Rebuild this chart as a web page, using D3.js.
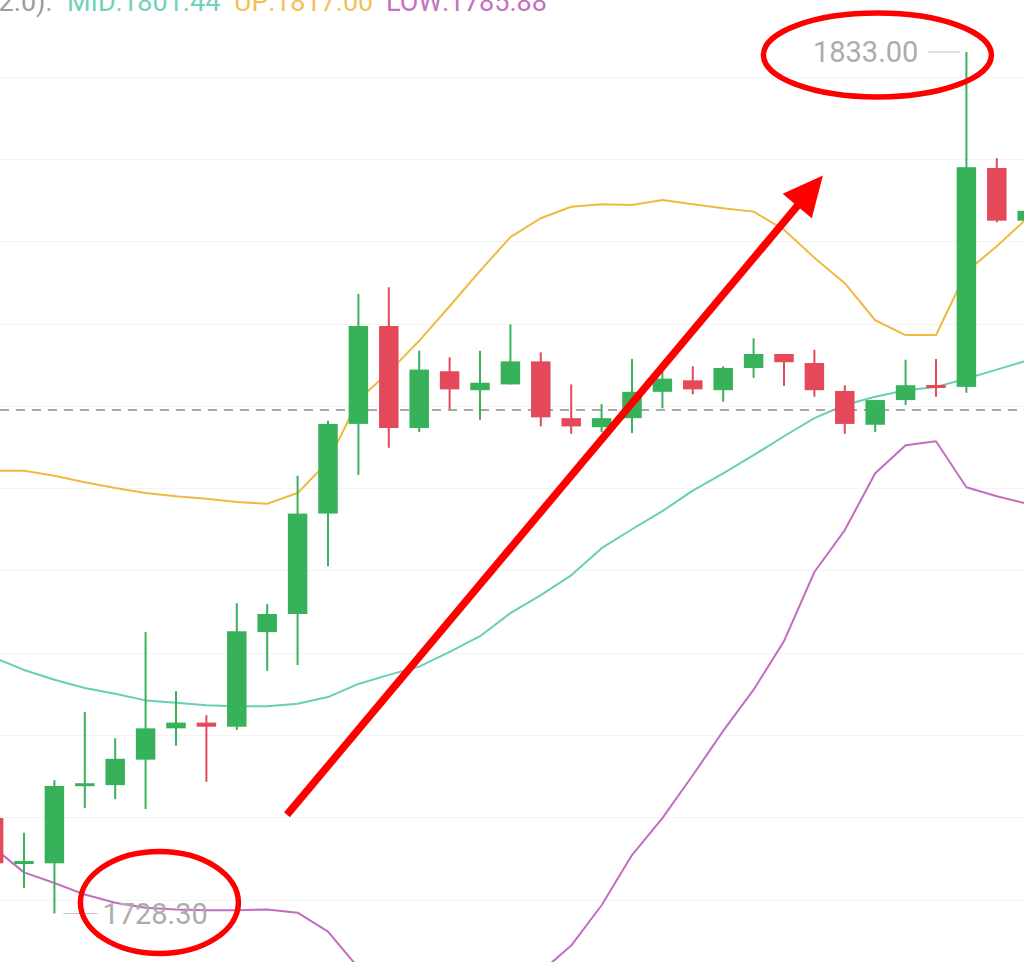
<!DOCTYPE html>
<html>
<head>
<meta charset="utf-8">
<script src="https://cdn.jsdelivr.net/npm/d3@7"></script>
<style>
  html, body { margin: 0; padding: 0; background: #ffffff; }
  svg { display: block; }
</style>
</head>
<body>
<svg id="chart" width="1024" height="962"></svg>
<script>
// ---------- data ----------
const candleOpen  = [1739.9,1734.4,1734.4,1743.8,1743.9,1747.0,1750.8,1751.5,1751.0,1762.5,1764.7,1776.9,1787.8,1799.7,1787.3,1794.2,1791.9,1792.6,1795.4,1788.5,1787.4,1788.5,1791.7,1793.1,1791.9,1794.6,1796.3,1795.2,1791.8,1787.7,1790.7,1792.5,1792.3,1818.9,1812.5];
const candleHigh  = [1741.0,1738.1,1744.5,1752.8,1749.6,1762.5,1755.3,1752.4,1766.0,1765.9,1781.5,1788.2,1803.6,1804.4,1796.7,1795.9,1796.7,1799.9,1796.5,1792.6,1790.2,1795.7,1794.1,1794.8,1794.8,1798.2,1796.3,1796.8,1792.5,1790.7,1795.6,1795.7,1833.0,1820.1,1814.5];
const candleLow   = [1733.5,1731.4,1728.3,1741.1,1742.2,1741.0,1748.7,1744.3,1750.6,1757.8,1758.5,1770.5,1781.6,1784.9,1786.8,1789.6,1788.3,1792.6,1787.5,1786.6,1786.8,1786.7,1789.7,1791.4,1790.5,1793.4,1792.4,1791.1,1786.6,1786.8,1790.1,1791.1,1791.6,1812.3,1811.8];
const candleClose = [1734.4,1734.6,1743.8,1744.1,1747.1,1750.8,1751.5,1751.0,1762.6,1764.7,1776.9,1787.8,1799.7,1787.3,1794.4,1792.0,1792.8,1795.4,1788.6,1787.5,1788.5,1791.7,1793.3,1792.0,1794.6,1796.3,1795.3,1791.9,1787.8,1790.7,1792.5,1792.2,1819.0,1812.5,1813.7];

const bollUp  = [1782.1,1782.1,1781.5,1780.7,1780.0,1779.4,1779.0,1778.7,1778.3,1778.1,1779.4,1783.2,1790.7,1794.1,1797.9,1802.1,1806.4,1810.5,1812.8,1814.2,1814.5,1814.4,1815.0,1814.5,1814.0,1813.6,1811.4,1808.0,1804.9,1800.4,1798.6,1798.6,1806.3,1809.4,1812.8];
const bollMid = [1759.4,1757.9,1756.7,1755.7,1755.0,1754.2,1753.9,1753.6,1753.5,1753.5,1753.8,1754.6,1756.2,1757.3,1758.3,1760.1,1762.0,1764.8,1767.0,1769.4,1772.7,1775.0,1777.2,1779.7,1781.8,1784.0,1786.3,1788.5,1790.1,1791.1,1791.9,1792.3,1793.3,1794.4,1795.5];
const bollLow = [1736.3,1733.3,1732.0,1730.6,1729.6,1729.0,1728.8,1728.7,1728.7,1728.8,1728.4,1726.1,1721.7,1720.5,1718.6,1718.0,1717.7,1719.1,1721.2,1724.4,1729.3,1735.4,1739.9,1745.1,1750.5,1755.5,1761.4,1769.8,1774.9,1781.8,1785.2,1785.7,1780.1,1779.0,1778.1];

const gridTicks = [1830,1820,1810,1800,1790,1780,1770,1760,1750,1740,1730];
const lastPriceLine = 1789.5;
const headerPrefix = "BOLL(20,2.0):";
const headerItems = [
  {label: "MID:1801.44", key: "mid"},
  {label: "UP:1817.00",  key: "up"},
  {label: "LOW:1785.88", key: "low"}
];
const maxLabel = "1833.00";
const minLabel = "1728.30";
const maxIndex = 32, minIndex = 2;
// annotation arrow (index, price)
const arrowFrom = {i: 9.65, p: 1740.3};
const arrowTo   = {i: 27.28, p: 1818.0};

// ---------- styles ----------
const W = 1024, H = 962;
const colUp = "#37b25b", colDown = "#e4495a";
const colMid = "#66cfb6", colUpper = "#f0b942", colLower = "#c46cc0";
const fontFam = "Roboto, 'Noto Sans', sans-serif";

const svg = d3.select("#chart");
const x = d3.scaleLinear().domain([0, 34]).range([-6.4, 1027.2]);
const y = d3.scaleLinear().domain([1728.3, 1833]).range([913.5, 52]);

// gridlines
svg.append("g").selectAll("line").data(gridTicks).join("line")
  .attr("x1", 0).attr("x2", W)
  .attr("y1", d => Math.round(y(d)) + 0.5).attr("y2", d => Math.round(y(d)) + 0.5)
  .attr("stroke", "#f4f4f4").attr("stroke-width", 1);

// bollinger lines
const idx = d3.range(candleOpen.length);
const lineGen = arr => d3.line().x(i => x(i)).y(i => y(arr[i]))(idx);
[[bollUp, colUpper], [bollMid, colMid], [bollLow, colLower]].forEach(([arr, c]) => {
  svg.append("path").attr("d", lineGen(arr)).attr("fill", "none")
    .attr("stroke", c).attr("stroke-width", 2).attr("stroke-linejoin", "round");
});

// dashed price line
svg.append("line").attr("x1", 0).attr("x2", W)
  .attr("y1", y(lastPriceLine)).attr("y2", y(lastPriceLine))
  .attr("stroke", "#a9a9a9").attr("stroke-width", 2).attr("stroke-dasharray", "9,7");

// candles
const bodyW = 19.5;
const cg = svg.append("g").selectAll("g").data(idx).join("g");
cg.append("line")
  .attr("x1", i => x(i)).attr("x2", i => x(i))
  .attr("y1", i => y(candleHigh[i])).attr("y2", i => y(candleLow[i]))
  .attr("stroke", i => candleClose[i] >= candleOpen[i] ? colUp : colDown)
  .attr("stroke-width", 2);
cg.append("rect")
  .attr("x", i => x(i) - bodyW / 2).attr("width", bodyW)
  .attr("y", i => {
    const top = y(Math.max(candleOpen[i], candleClose[i]));
    const bot = y(Math.min(candleOpen[i], candleClose[i]));
    return bot - top < 3 ? (top + bot) / 2 - 1.5 : top;
  })
  .attr("height", i => Math.max(3, y(Math.min(candleOpen[i], candleClose[i])) - y(Math.max(candleOpen[i], candleClose[i]))))
  .attr("fill", i => candleClose[i] >= candleOpen[i] ? colUp : colDown);

// high / low labels
const hx = x(maxIndex), hy = y(candleHigh[maxIndex]);
svg.append("line").attr("x1", hx - 38).attr("x2", hx - 6).attr("y1", hy).attr("y2", hy)
  .attr("stroke", "#c4c4c4").attr("stroke-width", 1.2);
svg.append("text").attr("x", hx - 48).attr("y", hy).attr("dy", "0.36em")
  .attr("text-anchor", "end").attr("font-family", fontFam).attr("font-size", 29)
  .attr("fill", "#acacac").text(maxLabel);

const lx = x(minIndex), ly = y(candleLow[minIndex]);
svg.append("line").attr("x1", lx + 9).attr("x2", lx + 43).attr("y1", ly).attr("y2", ly)
  .attr("stroke", "#c4c4c4").attr("stroke-width", 1.2);
svg.append("text").attr("x", lx + 48).attr("y", ly).attr("dy", "0.36em")
  .attr("text-anchor", "start").attr("font-family", fontFam).attr("font-size", 29)
  .attr("fill", "#acacac").text(minLabel);

// header (partly cut off at the top edge, as in the reference)
const header = svg.append("g").attr("font-family", fontFam).attr("font-size", 27);
header.append("text").attr("x", 52).attr("y", 11).attr("text-anchor", "end")
  .attr("fill", "#9c9c9c").text(headerPrefix);
const hCol = {mid: "#70d2bb", up: "#f2c257", low: "#c570c2"};
const hX = [67, 234, 386];
headerItems.forEach((d, k) => {
  header.append("text").attr("x", hX[k]).attr("y", 11).attr("fill", hCol[d.key]).text(d.label);
});

// annotations (red ellipses and arrow)
svg.append("ellipse").attr("cx", hx - 89).attr("cy", hy + 3).attr("rx", 114).attr("ry", 42)
  .attr("fill", "none").attr("stroke", "#ff0000").attr("stroke-width", 5.5);
svg.append("ellipse").attr("cx", lx + 105).attr("cy", ly - 11).attr("rx", 79).attr("ry", 51)
  .attr("fill", "none").attr("stroke", "#ff0000").attr("stroke-width", 5.5);

const ax0 = x(arrowFrom.i), ay0 = y(arrowFrom.p), ax1 = x(arrowTo.i), ay1 = y(arrowTo.p);
const dx = ax1 - ax0, dy = ay1 - ay0, len = Math.hypot(dx, dy);
const ux = dx / len, uy = dy / len;
const headL = 40, headW = 19;
const bx = ax1 - ux * headL, by = ay1 - uy * headL;
svg.append("line").attr("x1", ax0).attr("y1", ay0).attr("x2", bx + ux * 4).attr("y2", by + uy * 4)
  .attr("stroke", "#ff0000").attr("stroke-width", 7.5);
svg.append("polygon")
  .attr("points", [[ax1, ay1], [bx - uy * headW, by + ux * headW], [bx + uy * headW, by - ux * headW]].map(p => p.join(",")).join(" "))
  .attr("fill", "#ff0000");
</script>
</body>
</html>
